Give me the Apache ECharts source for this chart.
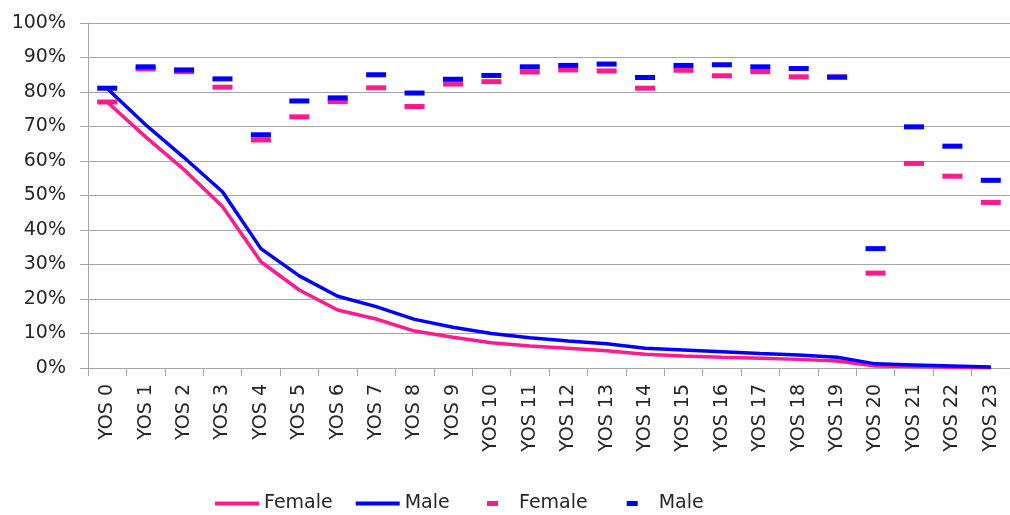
<!DOCTYPE html>
<html>
<head>
<meta charset="utf-8">
<script src="https://cdn.jsdelivr.net/npm/echarts@6/dist/echarts.min.js"></script>
<style>
html,body{margin:0;padding:0;background:#fff;}
#chart{width:1010px;height:515px;}
</style>
</head>
<body>
<div id="chart"></div>
<script>
const categories = ['YOS 0','YOS 1','YOS 2','YOS 3','YOS 4','YOS 5','YOS 6','YOS 7','YOS 8','YOS 9','YOS 10','YOS 11','YOS 12','YOS 13','YOS 14','YOS 15','YOS 16','YOS 17','YOS 18','YOS 19','YOS 20','YOS 21','YOS 22','YOS 23'];
const femaleLine = [77.1,67.0,57.5,46.8,30.8,22.6,16.8,14.2,10.7,8.9,7.3,6.4,5.7,5.0,4.0,3.5,3.1,2.8,2.5,2.0,0.6,0.4,0.2,0.1];
const maleLine   = [81.0,70.5,61.0,51.1,34.6,26.7,20.8,17.8,14.1,11.8,10.0,8.8,7.8,7.0,5.7,5.2,4.7,4.2,3.8,3.1,1.2,0.9,0.6,0.3];
const femaleDash = [77.1,86.7,85.9,81.4,66.1,72.8,77.2,81.2,75.8,82.3,83.0,85.8,86.4,86.1,81.1,86.3,84.7,85.9,84.4,84.4,27.5,59.3,55.6,48.0];
const maleDash   = [81.1,87.3,86.4,83.8,67.6,77.4,78.3,85.0,79.7,83.7,84.8,87.3,87.7,88.1,84.2,87.7,87.9,87.3,86.8,84.3,34.6,69.9,64.3,54.4];
const yTicks = [0,10,20,30,40,50,60,70,80,90,100];

const PINK = '#FF1A8C';
const BLUE = '#0000FF';
const GRAY = '#A6A6A6';
const FONT = 'DejaVu Sans';
const TXT = '#262626';

const chart = echarts.init(document.getElementById('chart'), null, {renderer:'canvas'});
chart.setOption({
  animation: false,
  backgroundColor: '#fff',
  textStyle: {fontFamily: FONT, color: TXT},
  grid: {left: 88, top: 23, bottom: 147, width: 929},
  xAxis: {
    type: 'category',
    data: categories,
    boundaryGap: true,
    axisLine: {show: true, lineStyle: {color: GRAY, width: 1}},
    axisTick: {show: true, length: 8, lineStyle: {color: GRAY}},
    axisLabel: {rotate: 90, margin: 16, fontSize: 19, color: TXT, fontFamily: FONT, interval: 0}
  },
  yAxis: {
    type: 'value',
    min: yTicks[0], max: yTicks[yTicks.length-1], interval: 10,
    axisLine: {show: true, lineStyle: {color: GRAY, width: 1}},
    axisTick: {show: true, length: 8, lineStyle: {color: GRAY}},
    splitLine: {show: true, lineStyle: {color: GRAY, width: 1}},
    axisLabel: {formatter: '{value}%', margin: 22, fontSize: 19, color: TXT, fontFamily: FONT}
  },
  legend: [
    {
      data: [{name: 'Female', icon: 'rect'}, {name: 'Male', icon: 'rect'}],
      left: 215, top: 494, padding: 0,
      itemWidth: 44, itemHeight: 4, itemGap: 23,
      textStyle: {fontSize: 19, color: TXT, fontFamily: FONT}
    },
    {
      data: [{name: 'Female ', icon: 'rect'}, {name: 'Male ', icon: 'rect'}],
      left: 487, top: 494, padding: 0,
      itemWidth: 11, itemHeight: 5, itemGap: 39,
      formatter: n => n.trim(),
      textStyle: {fontSize: 19, color: TXT, fontFamily: FONT, padding: [0,0,0,16]}
    }
  ],
  series: [
    {name: 'Female', type: 'line', data: femaleLine, symbol: 'none', showSymbol: false,
     lineStyle: {color: PINK, width: 3.5}, itemStyle: {color: PINK}, z: 2},
    {name: 'Male', type: 'line', data: maleLine, symbol: 'none', showSymbol: false,
     lineStyle: {color: BLUE, width: 3.5}, itemStyle: {color: BLUE}, z: 2},
    {name: 'Female ', type: 'scatter', data: femaleDash, symbol: 'rect', symbolSize: [20,5],
     itemStyle: {color: PINK, opacity: 1}, z: 3},
    {name: 'Male ', type: 'scatter', data: maleDash, symbol: 'rect', symbolSize: [20,5],
     itemStyle: {color: BLUE, opacity: 1}, z: 4}
  ]
});
</script>
</body>
</html>
